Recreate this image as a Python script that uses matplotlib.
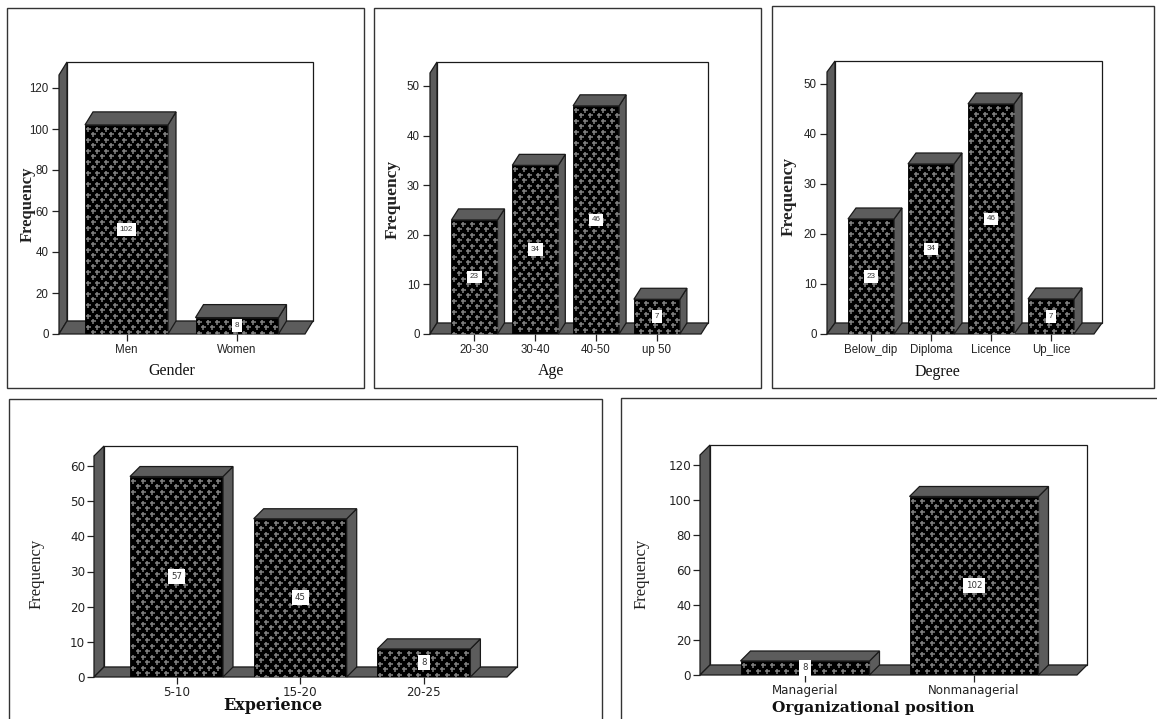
import numpy as np
import matplotlib
matplotlib.use('Agg')
import matplotlib.pyplot as plt
from matplotlib.patches import Polygon, Rectangle

W, H = 1157, 719

# chart data
gender_labels = ['Men', 'Women']
gender_values = [102, 8]
age_labels = ['20-30', '30-40', '40-50', 'up 50']
age_values = [23, 34, 46, 7]
degree_labels = ['Below_dip', 'Diploma', 'Licence', 'Up_lice']
degree_values = [23, 34, 46, 7]
experience_labels = ['5-10', '15-20', '20-25']
experience_values = [57, 45, 8]
position_labels = ['Managerial', 'Nonmanagerial']
position_values = [8, 102]

SIDE = '#5c5c5c'
PLUS = '#7e7e7e'
SERIF = 'Liberation Serif'
WIDE_SERIF = 'DejaVu Serif'

fig = plt.figure(figsize=(W / 100, H / 100), dpi=100, facecolor='white')


def draw_frame(left, top, right, bottom):
    # outer box round each panel, may run off the image
    fig.add_artist(Rectangle((left / W, 1 - bottom / H), (right - left) / W, (bottom - top) / H,
                             transform=fig.transFigure, fill=False, edgecolor='#333333', linewidth=1.0))


def draw_panel(labels, values, yticks, x_left, x_right, y_zero, y_ref, ref_value, top, first_center,
               spacing, bar_px, depth, tick_font, xlabel, xlabel_pos, xlabel_style,
               ylab_pos, ylab_style, pitch=(9.0, 5.5), value_size=5.8):
    dx, dy = depth
    px_per_val = (y_zero - y_ref) / ref_value
    ymax = (y_zero - top - dy) / px_per_val
    ax = fig.add_axes([x_left / W, 1 - y_zero / H, (x_right - x_left) / W, (y_zero - top - dy) / H])
    ax.set_xlim((x_left - first_center) / spacing, (x_right - first_center) / spacing)
    ax.set_ylim(0, ymax)
    ax.patch.set_visible(False)
    for s in ax.spines.values():
        s.set_visible(False)

    # depth expressed in data units
    ddx = dx / spacing
    ddy = dy / px_per_val
    x0, x1 = ax.get_xlim()

    edge = dict(edgecolor='#1a1a1a', linewidth=0.9, clip_on=False)
    ax.add_patch(Polygon([(x0 + ddx, ddy), (x1 + ddx, ddy), (x1 + ddx, ymax + ddy), (x0 + ddx, ymax + ddy)],
                         facecolor='white', zorder=1, **edge))
    ax.add_patch(Polygon([(x0, 0), (x0 + ddx, ddy), (x0 + ddx, ymax + ddy), (x0, ymax)],
                         facecolor=SIDE, zorder=2, **edge))
    ax.add_patch(Polygon([(x0, 0), (x1, 0), (x1 + ddx, ddy), (x0 + ddx, ddy)],
                         facecolor=SIDE, zorder=2, **edge))

    width = bar_px / spacing
    xs = np.arange(len(values))
    bars = ax.bar(xs, values, width, color='black', edgecolor='black', linewidth=0.6, zorder=3)
    for x, v, bar in zip(xs, values, bars):
        l, r = x - width / 2, x + width / 2
        ax.add_patch(Polygon([(r, 0), (r + ddx, ddy), (r + ddx, v + ddy), (r, v)],
                             facecolor=SIDE, zorder=3, **edge))
        ax.add_patch(Polygon([(l, v), (r, v), (r + ddx, v + ddy), (l + ddx, v + ddy)],
                             facecolor=SIDE, zorder=3, **edge))

        # staggered plus pattern inside the front face
        px, py = [], []
        rows = np.arange(v - 4 / px_per_val, 0, -pitch[1] / px_per_val)
        for i, yy in enumerate(rows):
            shift = 0 if i % 2 == 0 else pitch[0] / 2
            cols = np.arange(l + (3 + shift) / spacing, r - 1 / spacing, pitch[0] / spacing)
            px.extend(cols)
            py.extend([yy] * len(cols))
        marks, = ax.plot(px, py, linestyle='none', marker='+', color=PLUS, markersize=3.6,
                         markeredgewidth=1.15, zorder=4)
        marks.set_clip_path(bar)

        ax.text(x, v / 2, str(v), ha='center', va='center', fontsize=value_size, color='#333333',
                family=tick_font['family'], zorder=5,
                bbox=dict(boxstyle='square,pad=0.35', facecolor='white', edgecolor='none'))

    ax.set_xticks(xs)
    ax.set_xticklabels(labels)
    ax.set_yticks(yticks)
    ax.tick_params(axis='both', length=5, width=0.9, color='#222222', pad=tick_font['pad'],
                   labelcolor='#222222', labelsize=tick_font['size'])
    for t in ax.get_xticklabels() + ax.get_yticklabels():
        t.set_family(tick_font['family'])

    fig.text(xlabel_pos[0] / W, 1 - xlabel_pos[1] / H, xlabel, ha='center', va='center',
             color='#111111', **xlabel_style)
    fig.text(ylab_pos[0] / W, 1 - ylab_pos[1] / H, 'Frequency', ha='center', va='center', rotation=90,
             family=SERIF, color='#222222', **ylab_style)


narrow = {'family': ['Liberation Sans'], 'size': 8.3, 'pad': 2.5}
wide = {'family': ['DejaVu Sans'], 'size': 8.6, 'pad': 1.5}
title_small = {'family': SERIF, 'fontsize': 11.5}

draw_frame(7, 8, 364, 388)
draw_frame(374, 8, 761, 388)
draw_frame(772, 6, 1154, 388)
draw_frame(9, 399, 602, 730)
draw_frame(621, 398, 1170, 730)

draw_panel(gender_labels, gender_values, [0, 20, 40, 60, 80, 100, 120], 59, 305, 334, 88, 120, 62, 126.5,
           110.5, 83, (8, 13), narrow, 'Gender', (172, 371), title_small,
           (28, 204), {'fontsize': 12, 'fontweight': 'bold'})
draw_panel(age_labels, age_values, [0, 10, 20, 30, 40, 50], 430, 701, 334, 86, 50, 62, 474.5,
           60.8, 46, (7, 11), narrow, 'Age', (551, 371), title_small,
           (393, 199), {'fontsize': 12.5, 'fontweight': 'bold'})
draw_panel(degree_labels, degree_values, [0, 10, 20, 30, 40, 50], 827, 1094, 334, 84, 50, 61, 871,
           60, 46, (8, 11), narrow, 'Degree', (937, 372), title_small,
           (789, 196), {'fontsize': 12.5, 'fontweight': 'bold'})
draw_panel(experience_labels, experience_values, [0, 10, 20, 30, 40, 50, 60], 94, 507, 677, 466, 60, 446, 176.5,
           123.7, 93, (10, 10), wide, 'Experience', (273, 706),
           {'family': WIDE_SERIF, 'fontsize': 11.5, 'fontweight': 'bold'},
           (37, 574), {'fontsize': 12}, pitch=(9.5, 5.5), value_size=6.2)
draw_panel(position_labels, position_values, [0, 20, 40, 60, 80, 100, 120], 700, 1077, 675, 465, 120, 445, 805,
           169, 129, (10, 10), wide, 'Organizational position', (873, 708),
           {'family': WIDE_SERIF, 'fontsize': 11.1, 'fontweight': 'bold'},
           (642, 574), {'fontsize': 12}, pitch=(9.5, 5.5), value_size=6.2)

fig.savefig('out.png', dpi=100)
